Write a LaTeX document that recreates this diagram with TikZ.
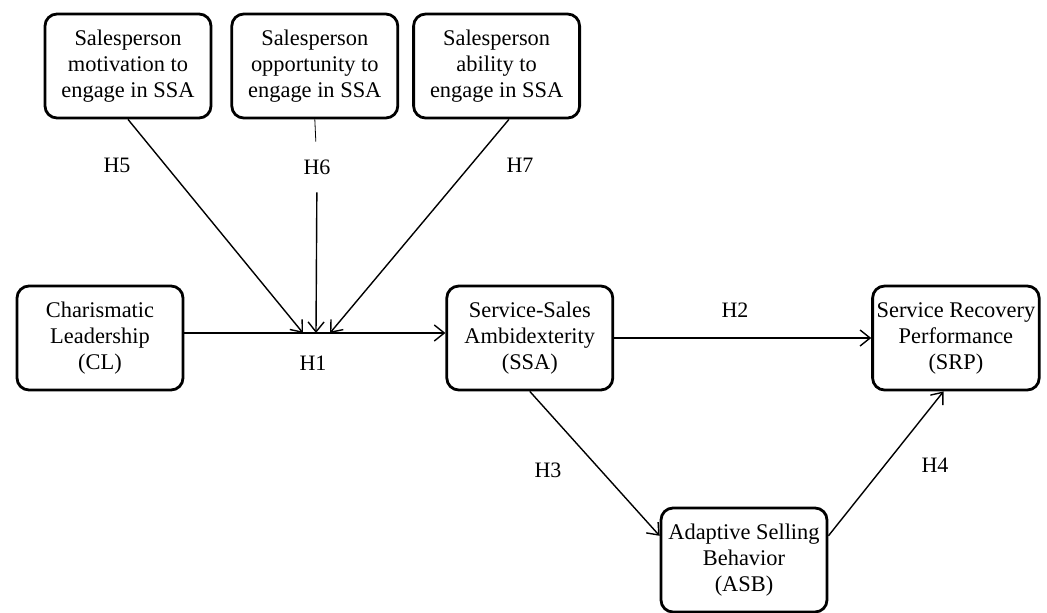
\documentclass[tikz,border=0pt]{standalone}
\usepackage{fontspec}
\setmainfont{Liberation Serif}
\usetikzlibrary{positioning,arrows.meta}

\begin{document}
\begin{tikzpicture}[
  x=0.5pt, y=-0.5pt,
  box/.style={draw, line width=1.4pt, rounded corners=6pt, align=center,
              font=\fontsize{11.2}{13}\selectfont,
              minimum width=83pt, minimum height=52pt, inner sep=2pt},
  arr/.style={-{Straight Barb[length=5pt, width=8pt]}, line width=0.7pt},
  hyp/.style={font=\fontsize{11}{13}\selectfont, inner sep=1pt}
]
\useasboundingbox (0,0) rectangle (1047,612);
% antecedents
\node[box] (mot) at (128,66) {Salesperson\\motivation to\\engage in SSA};
\node[box, right=9pt of mot] (opp) {Salesperson\\opportunity to\\engage in SSA};
\node[box, right=6.5pt of opp] (abl) {Salesperson\\ability to\\engage in SSA};
% main model
\node[box] (cl) at (100,338) {Charismatic\\Leadership\\(CL)};
\node[box, right=130.5pt of cl] (ssa) {Service-Sales\\Ambidexterity\\(SSA)};
\node[box, right=128.5pt of ssa] (srp) {Service Recovery\\Performance\\(SRP)};
\node[box] (asb) at (744,560) {Adaptive Selling\\Behavior\\(ASB)};
% moderation points on the H1 path
\coordinate (j5) at (303,333);
\coordinate (j6) at (316,333);
\coordinate (j7) at (330,333);
% hypothesis labels
\node[hyp] (h5) at (117,165) {H5};
\node[hyp, minimum height=25pt] (h6) at (317,167) {H6};
\node[hyp] (h7) at (520,165) {H7};
\node[hyp] (h1) at (313,363) {H1};
\node[hyp] (h2) at (735,310) {H2};
\node[hyp] (h3) at (548,470) {H3};
\node[hyp] (h4) at (935,465) {H4};
% paths
\draw[arr] ([yshift=2.5pt]cl.east) -- ([yshift=2.5pt]ssa.west);
\draw[arr] (mot.south) -- (j5);
\draw (opp.south) -- (h6);
\draw[arr] (h6) -- (j6);
\draw[arr] (abl.-77) -- (j7);
\draw[arr] (ssa.east) -- (srp.west);
\draw[arr] (ssa.south) -- (asb.164);
\draw[arr] (asb.16) -- (srp.257);
\end{tikzpicture}
\end{document}
